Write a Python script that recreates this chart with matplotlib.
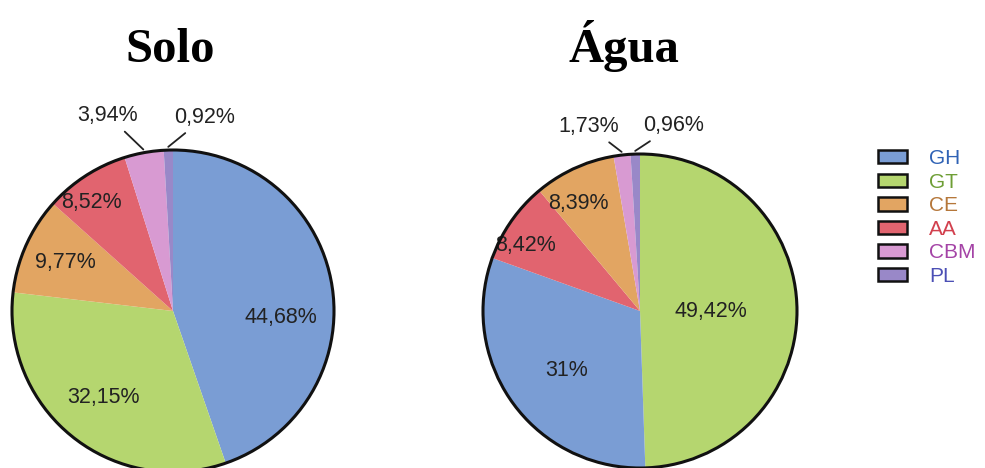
import matplotlib
matplotlib.use("Agg")
import matplotlib.pyplot as plt
from matplotlib.patches import Circle, Patch
import numpy as np

# categories (legend order) and colours
categories = ["GH", "GT", "CE", "AA", "CBM", "PL"]
slice_colors = ["#7A9DD4", "#B5D66F", "#E2A562", "#E1646F", "#D89AD2", "#9988C8"]
text_colors = ["#2F62B5", "#6E9E35", "#B5773A", "#D2404E", "#A443A6", "#4B4FB5"]

# percentages per category
solo_values = [44.68, 32.15, 9.77, 8.52, 3.94, 0.92]
agua_values = [31.0, 49.42, 8.39, 8.42, 1.73, 0.96]

# order in which the slices go round each pie (clockwise from 12 o'clock)
solo_order = ["GH", "GT", "CE", "AA", "CBM", "PL"]
agua_order = ["GT", "GH", "AA", "CE", "CBM", "PL"]

# label placement: (radius fraction, angle shift in degrees) per slice
solo_label_pos = [(0.67, -13), (0.69, 0), (0.73, 0), (0.84, 4), (1.28, 8), (1.22, -11)]
agua_label_pos = [(0.45, -1), (0.60, 3), (0.84, 5), (0.79, 5), (1.22, 9), (1.20, -12)]

W, H = 985, 468
PAD = 1.1  # axes half-width in pie radii, so the outline is not clipped
fig = plt.figure(figsize=(W / 100, H / 100), dpi=100)


def fmt(v):
    return f"{v:g}".replace(".", ",") + "%"


def draw_pie(cx, cy, r, values, order, label_pos, title, title_x):
    s = r * PAD
    ax = fig.add_axes([(cx - s) / W, (H - cy - s) / H, 2 * s / W, 2 * s / H])
    vals = [values[categories.index(c)] for c in order]
    cols = [slice_colors[categories.index(c)] for c in order]
    wedges, _ = ax.pie(vals, colors=cols, startangle=90, counterclock=False,
                       wedgeprops=dict(linewidth=0))
    ax.add_patch(Circle((0, 0), 1, fill=False, ec="#111111", lw=2.2, zorder=5))
    for w, v, (rf, shift) in zip(wedges, vals, label_pos):
        mid = np.deg2rad((w.theta1 + w.theta2) / 2)
        ang = mid + np.deg2rad(shift)
        tx, ty = rf * np.cos(ang), rf * np.sin(ang)
        if rf > 1:
            ax.annotate(fmt(v), xy=(1.02 * np.cos(mid), 1.02 * np.sin(mid)),
                        xytext=(tx, ty), ha="center", va="center",
                        fontsize=15.5, color="#222222", family="Liberation Sans",
                        annotation_clip=False,
                        arrowprops=dict(arrowstyle="-", color="#222222", lw=1.3,
                                        shrinkA=3, shrinkB=0))
        else:
            ax.text(tx, ty, fmt(v), ha="center", va="center", fontsize=15.5,
                    color="#222222", family="Liberation Sans")
    ax.set_xlim(-PAD, PAD)
    ax.set_ylim(-PAD, PAD)
    ax.axis("off")
    fig.text(title_x / W, 1 - 62 / H, title, ha="center", va="baseline",
             fontsize=35, fontweight="bold", family="Liberation Serif")


draw_pie(173, 311, 161, solo_values, solo_order, solo_label_pos, "Solo", 170)
draw_pie(640, 311, 157, agua_values, agua_order, agua_label_pos, "Água", 624)

handles = [Patch(facecolor=c, edgecolor="#111111", lw=1.8) for c in slice_colors]
leg = fig.legend(handles, categories, loc="upper left",
                 bbox_to_anchor=(878 / W, 1 - 149 / H), frameon=False,
                 prop=dict(family="Liberation Sans", size=15),
                 handlelength=1.4, handleheight=0.62, handletextpad=1.05,
                 labelspacing=0.22, borderpad=0, borderaxespad=0)
for t, c in zip(leg.get_texts(), text_colors):
    t.set_color(c)

fig.savefig("out.png", dpi=100)
